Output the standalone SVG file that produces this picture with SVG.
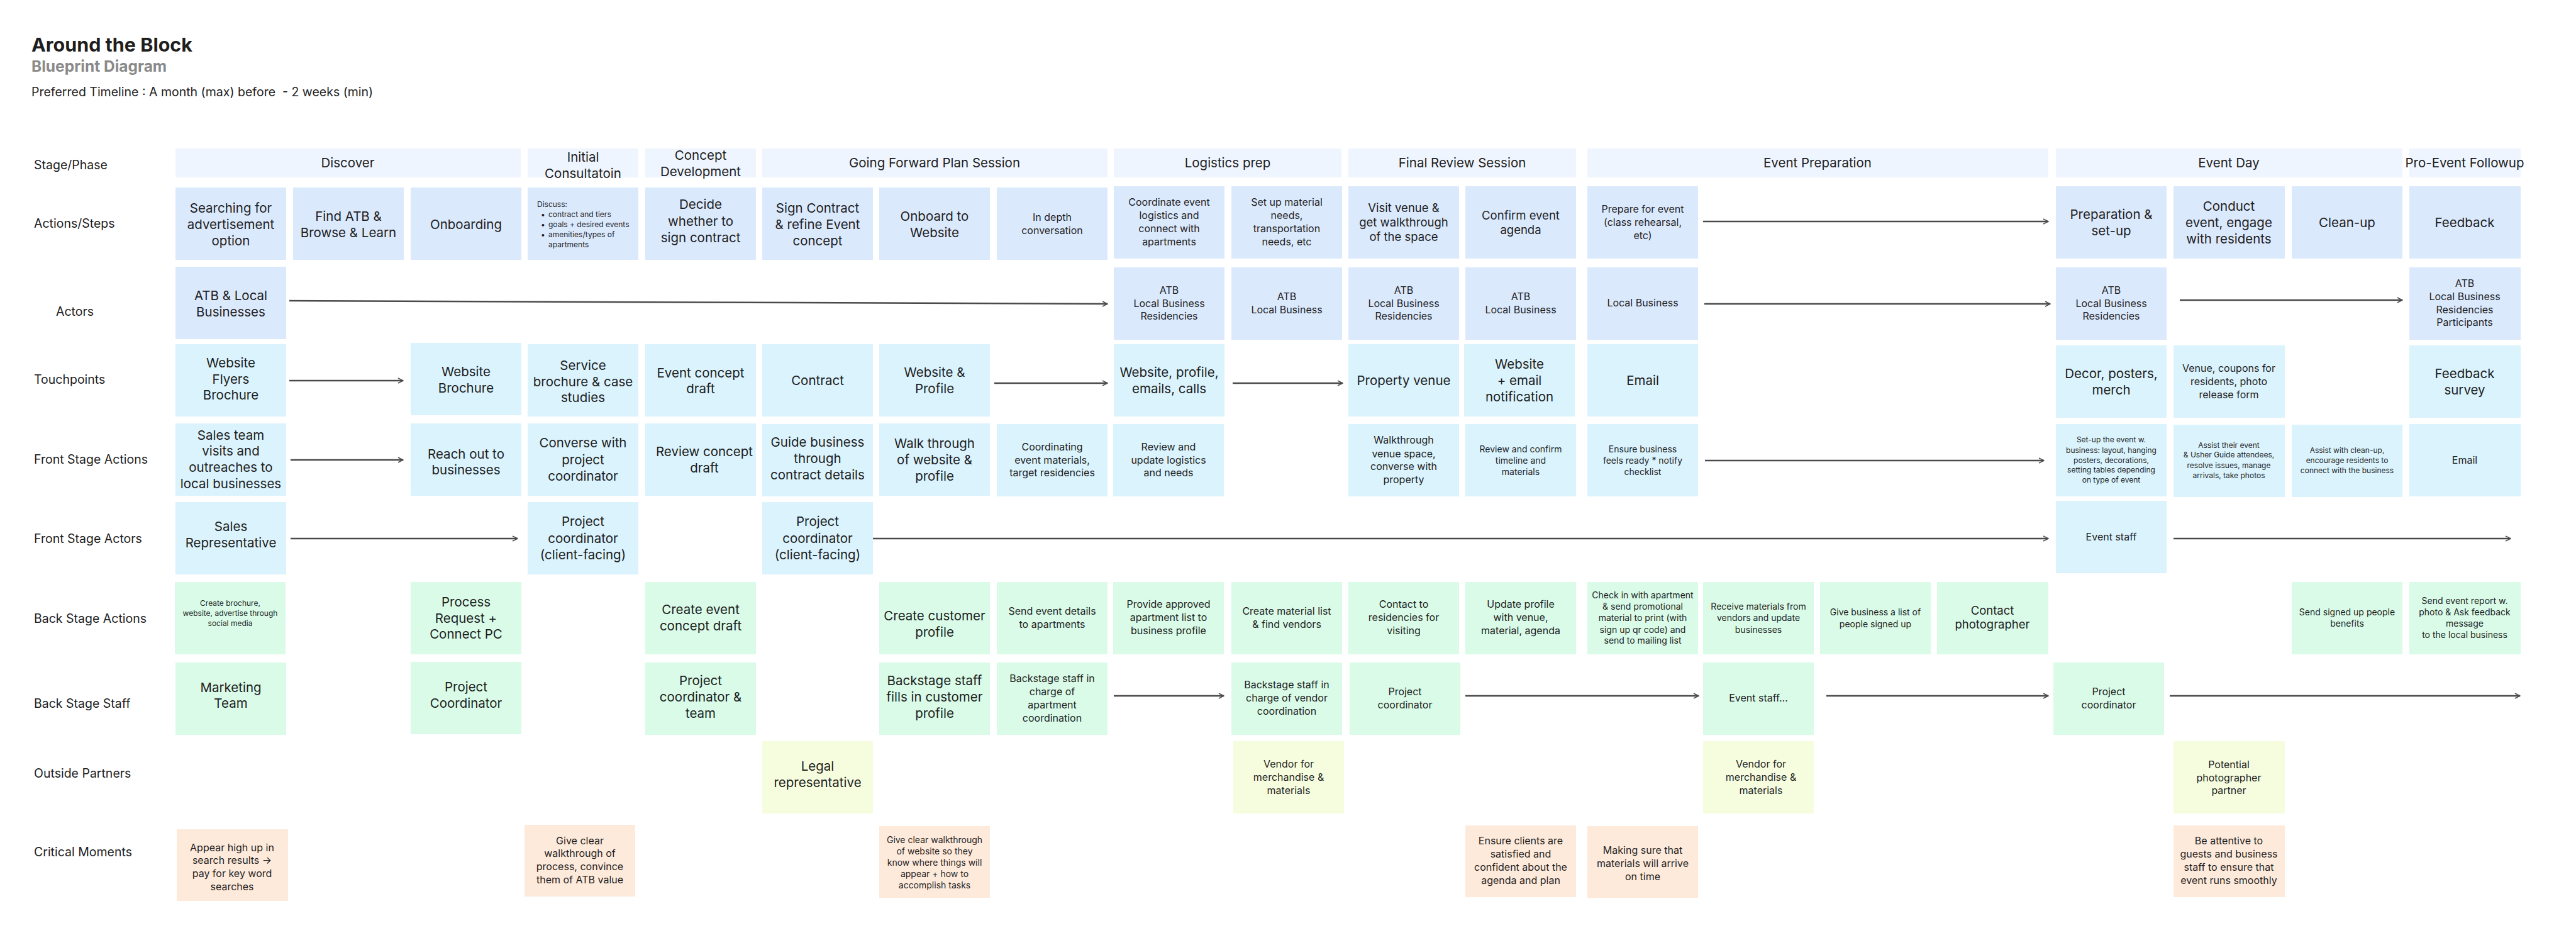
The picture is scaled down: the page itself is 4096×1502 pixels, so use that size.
<svg xmlns="http://www.w3.org/2000/svg" width="4096" height="1502" viewBox="0 0 4096 1502">
<style>
text{font-family:Inter,"Liberation Sans",sans-serif;fill:#1e1e1e}
.c{text-anchor:middle}
.L{font-size:20.5px}.ML{font-size:18.5px}.M{font-size:16px}.S{font-size:14px}.XS{font-size:12px}
.lab{font-size:19.5px}
.ph{fill:#EEF5FE}.act{fill:#DBE9FD}.tp{fill:#DAF3FD}.bs{fill:#D9FBE8}.op{fill:#F6FDDF}.cm{fill:#FEEADB}
.ar{stroke:#4a4a4a;stroke-width:2.5;fill:none;marker-end:url(#ah)}
</style>
<defs>
<marker id="ah" viewBox="0 0 10 10" refX="9" refY="5" markerWidth="4" markerHeight="4" orient="auto" markerUnits="strokeWidth">
<path d="M1,1 L9,5 L1,9" fill="none" stroke="#4a4a4a" stroke-width="1.5"/>
</marker>
</defs>
<rect width="4096" height="1502" fill="#ffffff"/>
<g id="title">
<text x="50" y="82" style="font-size:30.5px;font-weight:700">Around the Block</text>
<text x="50" y="114" style="font-size:24.5px;font-weight:700;fill:#8a8a8a">Blueprint Diagram</text>
<text x="50" y="153" style="font-size:19.5px" xml:space="preserve">Preferred Timeline : A month (max) before  - 2 weeks (min)</text>
</g>
<g id="row-labels" class="lab">
<text class="lab" x="54" y="269">Stage/Phase</text>
<text class="lab" x="54" y="362">Actions/Steps</text>
<text class="lab" x="89" y="502">Actors</text>
<text class="lab" x="54" y="610">Touchpoints</text>
<text class="lab" x="54" y="737">Front Stage Actions</text>
<text class="lab" x="54" y="863">Front Stage Actors</text>
<text class="lab" x="54" y="990">Back Stage Actions</text>
<text class="lab" x="54" y="1125">Back Stage Staff</text>
<text class="lab" x="54" y="1236">Outside Partners</text>
<text class="lab" x="54" y="1361">Critical Moments</text>
</g>
<g id="phases">
<g id="ph-discover"><rect class="ph" x="279" y="236" width="549" height="46"/><text class="c L" x="553" y="266">Discover</text></g>
<g id="ph-initial"><rect class="ph" x="839" y="236" width="176" height="46"/><text class="c L" x="927" y="257">Initial</text><text class="c L" x="927" y="283">Consultatoin</text></g>
<g id="ph-concept"><rect class="ph" x="1026" y="236" width="176" height="46"/><text class="c L" x="1114" y="254">Concept</text><text class="c L" x="1114" y="280">Development</text></g>
<g id="ph-going"><rect class="ph" x="1212" y="236" width="549" height="46"/><text class="c L" x="1486" y="266">Going Forward Plan Session</text></g>
<g id="ph-logistics"><rect class="ph" x="1771" y="236" width="362" height="46"/><text class="c L" x="1952" y="266">Logistics prep</text></g>
<g id="ph-final"><rect class="ph" x="2144" y="236" width="362" height="46"/><text class="c L" x="2325" y="266">Final Review Session</text></g>
<g id="ph-eventprep"><rect class="ph" x="2524" y="236" width="733" height="46"/><text class="c L" x="2890" y="266">Event Preparation</text></g>
<g id="ph-eventday"><rect class="ph" x="3269" y="236" width="551" height="46"/><text class="c L" x="3544" y="266">Event Day</text></g>
<g id="ph-followup"><rect class="ph" x="3831" y="236" width="177" height="46"/><text class="c L" x="3919" y="266">Pro-Event Followup</text></g>
</g>
<g id="connectors">
<path class="ar" d="M460,478 L1761,483"/>
<path class="ar" d="M2708,352 L3257,352"/>
<path class="ar" d="M2710,483 L3260,483"/>
<path class="ar" d="M3466,477 L3820,477"/>
<path class="ar" d="M460,605 L641,605"/>
<path class="ar" d="M1581,609 L1761,609"/>
<path class="ar" d="M1960,609 L2135,609"/>
<path class="ar" d="M462,731 L641,731"/>
<path class="ar" d="M2711,732 L3250,732"/>
<path class="ar" d="M462,856 L823,856"/>
<path class="ar" d="M1388,856 L3257,856"/>
<path class="ar" d="M3456,856 L3992,856"/>
<path class="ar" d="M1771,1106 L1946,1106"/>
<path class="ar" d="M2330,1106 L2701,1106"/>
<path class="ar" d="M2904,1106 L3257,1106"/>
<path class="ar" d="M3450,1106 L4007,1106"/>
</g>
<g id="actions">
<g id="a1"><rect class="act" x="279" y="298" width="176" height="115"/><text class="c L"><tspan x="367" y="338">Searching for</tspan><tspan x="367" y="364">advertisement</tspan><tspan x="367" y="390">option</tspan></text></g>
<g id="a2"><rect class="act" x="466" y="298" width="176" height="115"/><text class="c L"><tspan x="554" y="351">Find ATB &amp;</tspan><tspan x="554" y="377">Browse &amp; Learn</tspan></text></g>
<g id="a3"><rect class="act" x="653" y="298" width="176" height="115"/><text class="c L" x="741" y="364">Onboarding</text></g>
<g id="a4"><rect class="act" x="839" y="298" width="176" height="115"/><text class="XS"><tspan x="854" y="329">Discuss:</tspan><tspan x="860" y="345">•</tspan><tspan x="872" y="345">contract and tiers</tspan><tspan x="860" y="361">•</tspan><tspan x="872" y="361">goals + desired events</tspan><tspan x="860" y="377">•</tspan><tspan x="872" y="377">amenities/types of</tspan><tspan x="872" y="393">apartments</tspan></text></g>
<g id="a5"><rect class="act" x="1026" y="298" width="176" height="115"/><text class="c L"><tspan x="1114" y="332">Decide</tspan><tspan x="1114" y="359">whether to</tspan><tspan x="1114" y="385">sign contract</tspan></text></g>
<g id="a6"><rect class="act" x="1212" y="298" width="176" height="115"/><text class="c L"><tspan x="1300" y="338">Sign Contract</tspan><tspan x="1300" y="364">&amp; refine Event</tspan><tspan x="1300" y="390">concept</tspan></text></g>
<g id="a7"><rect class="act" x="1398" y="298" width="176" height="115"/><text class="c L"><tspan x="1486" y="351">Onboard to</tspan><tspan x="1486" y="377">Website</tspan></text></g>
<g id="a8"><rect class="act" x="1585" y="298" width="176" height="115"/><text class="c M"><tspan x="1673" y="351">In depth</tspan><tspan x="1673" y="372">conversation</tspan></text></g>
<g id="a9"><rect class="act" x="1771" y="296" width="176" height="115"/><text class="c M"><tspan x="1859" y="327">Coordinate event</tspan><tspan x="1859" y="348">logistics and</tspan><tspan x="1859" y="369">connect with</tspan><tspan x="1859" y="390">apartments</tspan></text></g>
<g id="a10"><rect class="act" x="1958" y="296" width="176" height="115"/><text class="c M"><tspan x="2046" y="327">Set up material</tspan><tspan x="2046" y="348">needs,</tspan><tspan x="2046" y="369">transportation</tspan><tspan x="2046" y="390">needs, etc</tspan></text></g>
<g id="a11"><rect class="act" x="2144" y="296" width="176" height="115"/><text class="c ML"><tspan x="2232" y="337">Visit venue &amp;</tspan><tspan x="2232" y="360">get walkthrough</tspan><tspan x="2232" y="383">of the space</tspan></text></g>
<g id="a12"><rect class="act" x="2330" y="296" width="176" height="115"/><text class="c ML"><tspan x="2418" y="349">Confirm event</tspan><tspan x="2418" y="372">agenda</tspan></text></g>
<g id="a13"><rect class="act" x="2524" y="296" width="176" height="115"/><text class="c M"><tspan x="2612" y="338">Prepare for event</tspan><tspan x="2612" y="359">(class rehearsal,</tspan><tspan x="2612" y="380">etc)</tspan></text></g>
<g id="a17"><rect class="act" x="3269" y="296" width="176" height="115"/><text class="c L"><tspan x="3357" y="348">Preparation &amp;</tspan><tspan x="3357" y="374">set-up</tspan></text></g>
<g id="a18"><rect class="act" x="3456" y="296" width="177" height="115"/><text class="c L"><tspan x="3544" y="335">Conduct</tspan><tspan x="3544" y="361">event, engage</tspan><tspan x="3544" y="387">with residents</tspan></text></g>
<g id="a19"><rect class="act" x="3644" y="296" width="176" height="115"/><text class="c L" x="3732" y="361">Clean-up</text></g>
<g id="a20"><rect class="act" x="3831" y="296" width="177" height="115"/><text class="c L" x="3919" y="361">Feedback</text></g>
</g>
<g id="actors">
<g id="ac1"><rect class="act" x="279" y="424" width="176" height="115"/><text class="c L"><tspan x="367" y="477">ATB &amp; Local</tspan><tspan x="367" y="503">Businesses</tspan></text></g>
<g id="ac9"><rect class="act" x="1771" y="425" width="176" height="115"/><text class="c M"><tspan x="1859" y="467">ATB</tspan><tspan x="1859" y="488">Local Business</tspan><tspan x="1859" y="508">Residencies</tspan></text></g>
<g id="ac10"><rect class="act" x="1958" y="425" width="176" height="115"/><text class="c M"><tspan x="2046" y="477">ATB</tspan><tspan x="2046" y="498">Local Business</tspan></text></g>
<g id="ac11"><rect class="act" x="2144" y="425" width="176" height="115"/><text class="c M"><tspan x="2232" y="467">ATB</tspan><tspan x="2232" y="488">Local Business</tspan><tspan x="2232" y="508">Residencies</tspan></text></g>
<g id="ac12"><rect class="act" x="2330" y="425" width="176" height="115"/><text class="c M"><tspan x="2418" y="477">ATB</tspan><tspan x="2418" y="498">Local Business</tspan></text></g>
<g id="ac13"><rect class="act" x="2524" y="425" width="176" height="115"/><text class="c M" x="2612" y="487">Local Business</text></g>
<g id="ac17"><rect class="act" x="3269" y="425" width="176" height="115"/><text class="c M"><tspan x="3357" y="467">ATB</tspan><tspan x="3357" y="488">Local Business</tspan><tspan x="3357" y="508">Residencies</tspan></text></g>
<g id="ac20"><rect class="act" x="3831" y="425" width="177" height="115"/><text class="c M"><tspan x="3919" y="456">ATB</tspan><tspan x="3919" y="477">Local Business</tspan><tspan x="3919" y="498">Residencies</tspan><tspan x="3919" y="518">Participants</tspan></text></g>
</g>
<g id="touchpoints">
<g id="t1"><rect class="tp" x="279" y="547" width="176" height="115"/><text class="c L"><tspan x="367" y="584">Website</tspan><tspan x="367" y="610">Flyers</tspan><tspan x="367" y="635">Brochure</tspan></text></g>
<g id="t3"><rect class="tp" x="653" y="545" width="176" height="115"/><text class="c L"><tspan x="741" y="598">Website</tspan><tspan x="741" y="624">Brochure</tspan></text></g>
<g id="t4"><rect class="tp" x="839" y="547" width="176" height="115"/><text class="c L"><tspan x="927" y="588">Service</tspan><tspan x="927" y="614">brochure &amp; case</tspan><tspan x="927" y="639">studies</tspan></text></g>
<g id="t5"><rect class="tp" x="1026" y="547" width="176" height="115"/><text class="c L"><tspan x="1114" y="600">Event concept</tspan><tspan x="1114" y="625">draft</tspan></text></g>
<g id="t6"><rect class="tp" x="1212" y="547" width="176" height="115"/><text class="c L" x="1300" y="612">Contract</text></g>
<g id="t7"><rect class="tp" x="1398" y="547" width="176" height="115"/><text class="c L"><tspan x="1486" y="599">Website &amp;</tspan><tspan x="1486" y="625">Profile</tspan></text></g>
<g id="t9"><rect class="tp" x="1771" y="547" width="176" height="115"/><text class="c L"><tspan x="1859" y="599">Website, profile,</tspan><tspan x="1859" y="625">emails, calls</tspan></text></g>
<g id="t11"><rect class="tp" x="2144" y="547" width="176" height="115"/><text class="c L" x="2232" y="612">Property venue</text></g>
<g id="t12"><rect class="tp" x="2328" y="547" width="176" height="115"/><text class="c L"><tspan x="2416" y="586">Website</tspan><tspan x="2416" y="612">+ email</tspan><tspan x="2416" y="638">notification</tspan></text></g>
<g id="t13"><rect class="tp" x="2524" y="547" width="176" height="115"/><text class="c L" x="2612" y="612">Email</text></g>
<g id="t17"><rect class="tp" x="3269" y="549" width="176" height="115"/><text class="c L"><tspan x="3357" y="601">Decor, posters,</tspan><tspan x="3357" y="627">merch</tspan></text></g>
<g id="t18"><rect class="tp" x="3456" y="549" width="177" height="115"/><text class="c M"><tspan x="3544" y="591">Venue, coupons for</tspan><tspan x="3544" y="612">residents, photo</tspan><tspan x="3544" y="633">release form</tspan></text></g>
<g id="t20"><rect class="tp" x="3831" y="549" width="177" height="115"/><text class="c L"><tspan x="3919" y="601">Feedback</tspan><tspan x="3919" y="627">survey</tspan></text></g>
</g>
<g id="frontstage-actions">
<g id="f1"><rect class="tp" x="279" y="673" width="176" height="115"/><text class="c L"><tspan x="367" y="699">Sales team</tspan><tspan x="367" y="724">visits and</tspan><tspan x="367" y="750">outreaches to</tspan><tspan x="367" y="776">local businesses</tspan></text></g>
<g id="f3"><rect class="tp" x="653" y="673" width="176" height="115"/><text class="c L"><tspan x="741" y="729">Reach out to</tspan><tspan x="741" y="754">businesses</tspan></text></g>
<g id="f4"><rect class="tp" x="839" y="673" width="176" height="115"/><text class="c L"><tspan x="927" y="711">Converse with</tspan><tspan x="927" y="738">project</tspan><tspan x="927" y="764">coordinator</tspan></text></g>
<g id="f5"><rect class="tp" x="1026" y="673" width="176" height="115"/><text class="c L"><tspan x="1120" y="725">Review concept</tspan><tspan x="1120" y="751">draft</tspan></text></g>
<g id="f6"><rect class="tp" x="1212" y="674" width="176" height="115"/><text class="c L"><tspan x="1300" y="710">Guide business</tspan><tspan x="1300" y="736">through</tspan><tspan x="1300" y="762">contract details</tspan></text></g>
<g id="f7"><rect class="tp" x="1398" y="673" width="176" height="115"/><text class="c L"><tspan x="1486" y="712">Walk through</tspan><tspan x="1486" y="738">of website &amp;</tspan><tspan x="1486" y="764">profile</tspan></text></g>
<g id="f8"><rect class="tp" x="1585" y="674" width="176" height="115"/><text class="c M"><tspan x="1673" y="716">Coordinating</tspan><tspan x="1673" y="737">event materials,</tspan><tspan x="1673" y="757">target residencies</tspan></text></g>
<g id="f9"><rect class="tp" x="1770" y="674" width="176" height="115"/><text class="c M"><tspan x="1858" y="716">Review and</tspan><tspan x="1858" y="737">update logistics</tspan><tspan x="1858" y="757">and needs</tspan></text></g>
<g id="f11"><rect class="tp" x="2144" y="674" width="176" height="115"/><text class="c M"><tspan x="2232" y="705">Walkthrough</tspan><tspan x="2232" y="727">venue space,</tspan><tspan x="2232" y="747">converse with</tspan><tspan x="2232" y="768">property</tspan></text></g>
<g id="f12"><rect class="tp" x="2330" y="674" width="176" height="115"/><text class="c S"><tspan x="2418" y="719">Review and confirm</tspan><tspan x="2418" y="737">timeline and</tspan><tspan x="2418" y="755">materials</tspan></text></g>
<g id="f13"><rect class="tp" x="2524" y="674" width="176" height="115"/><text class="c S"><tspan x="2612" y="719">Ensure business</tspan><tspan x="2612" y="737">feels ready * notify</tspan><tspan x="2612" y="755">checklist</tspan></text></g>
<g id="f17"><rect class="tp" x="3269" y="674" width="176" height="115"/><text class="c XS"><tspan x="3357" y="703">Set-up the event w.</tspan><tspan x="3357" y="720">business: layout, hanging</tspan><tspan x="3357" y="736">posters, decorations,</tspan><tspan x="3357" y="751">setting tables depending</tspan><tspan x="3357" y="767">on type of event</tspan></text></g>
<g id="f18"><rect class="tp" x="3456" y="675" width="177" height="115"/><text class="c XS"><tspan x="3544" y="712">Assist their event</tspan><tspan x="3544" y="727">&amp; Usher Guide attendees,</tspan><tspan x="3544" y="744">resolve issues, manage</tspan><tspan x="3544" y="760">arrivals, take photos</tspan></text></g>
<g id="f19"><rect class="tp" x="3644" y="675" width="176" height="115"/><text class="c XS"><tspan x="3732" y="720">Assist with clean-up,</tspan><tspan x="3732" y="736">encourage residents to</tspan><tspan x="3732" y="752">connect with the business</tspan></text></g>
<g id="f20"><rect class="tp" x="3831" y="674" width="177" height="115"/><text class="c M" x="3919" y="737">Email</text></g>
</g>
<g id="frontstage-actors">
<g id="fa1"><rect class="tp" x="279" y="798" width="176" height="115"/><text class="c L"><tspan x="367" y="844">Sales</tspan><tspan x="367" y="870">Representative</tspan></text></g>
<g id="fa4"><rect class="tp" x="839" y="798" width="176" height="115"/><text class="c L"><tspan x="927" y="836">Project</tspan><tspan x="927" y="863">coordinator</tspan><tspan x="927" y="889">(client-facing)</tspan></text></g>
<g id="fa6"><rect class="tp" x="1212" y="798" width="176" height="115"/><text class="c L"><tspan x="1300" y="836">Project</tspan><tspan x="1300" y="863">coordinator</tspan><tspan x="1300" y="889">(client-facing)</tspan></text></g>
<g id="fa17"><rect class="tp" x="3269" y="796" width="176" height="115"/><text class="c M" x="3357" y="859">Event staff</text></g>
</g>
<g id="backstage-actions">
<g id="b1"><rect class="bs" x="278" y="925" width="176" height="115"/><text class="c XS"><tspan x="366" y="963">Create brochure,</tspan><tspan x="366" y="979">website, advertise through</tspan><tspan x="366" y="995">social media</tspan></text></g>
<g id="b3"><rect class="bs" x="653" y="925" width="176" height="115"/><text class="c L"><tspan x="741" y="964">Process</tspan><tspan x="741" y="990">Request +</tspan><tspan x="741" y="1015">Connect PC</tspan></text></g>
<g id="b5"><rect class="bs" x="1026" y="925" width="176" height="115"/><text class="c L"><tspan x="1114" y="976">Create event</tspan><tspan x="1114" y="1002">concept draft</tspan></text></g>
<g id="b7"><rect class="bs" x="1398" y="925" width="176" height="115"/><text class="c L"><tspan x="1486" y="986">Create customer</tspan><tspan x="1486" y="1012">profile</tspan></text></g>
<g id="b8"><rect class="bs" x="1585" y="925" width="176" height="115"/><text class="c M"><tspan x="1673" y="977">Send event details</tspan><tspan x="1673" y="998">to apartments</tspan></text></g>
<g id="b9"><rect class="bs" x="1770" y="925" width="176" height="115"/><text class="c M"><tspan x="1858" y="966">Provide approved</tspan><tspan x="1858" y="987">apartment list to</tspan><tspan x="1858" y="1008">business profile</tspan></text></g>
<g id="b10"><rect class="bs" x="1958" y="925" width="176" height="115"/><text class="c M"><tspan x="2046" y="977">Create material list</tspan><tspan x="2046" y="998">&amp; find vendors</tspan></text></g>
<g id="b11"><rect class="bs" x="2144" y="925" width="176" height="115"/><text class="c M"><tspan x="2232" y="966">Contact to</tspan><tspan x="2232" y="987">residencies for</tspan><tspan x="2232" y="1008">visiting</tspan></text></g>
<g id="b12"><rect class="bs" x="2330" y="925" width="176" height="115"/><text class="c M"><tspan x="2418" y="966">Update profile</tspan><tspan x="2418" y="987">with venue,</tspan><tspan x="2418" y="1008">material, agenda</tspan></text></g>
<g id="b13"><rect class="bs" x="2524" y="925" width="176" height="115"/><text class="c S"><tspan x="2612" y="951">Check in with apartment</tspan><tspan x="2612" y="969">&amp; send promotional</tspan><tspan x="2612" y="987">material to print (with</tspan><tspan x="2612" y="1006">sign up qr code) and</tspan><tspan x="2612" y="1023">send to mailing list</tspan></text></g>
<g id="b14"><rect class="bs" x="2708" y="925" width="176" height="115"/><text class="c S"><tspan x="2796" y="969">Receive materials from</tspan><tspan x="2796" y="987">vendors and update</tspan><tspan x="2796" y="1006">businesses</tspan></text></g>
<g id="b15"><rect class="bs" x="2894" y="925" width="176" height="115"/><text class="c S"><tspan x="2982" y="978">Give business a list of</tspan><tspan x="2982" y="997">people signed up</tspan></text></g>
<g id="b16"><rect class="bs" x="3080" y="925" width="177" height="115"/><text class="c ML"><tspan x="3168" y="977">Contact</tspan><tspan x="3168" y="999">photographer</tspan></text></g>
<g id="b19"><rect class="bs" x="3644" y="925" width="176" height="115"/><text class="c S"><tspan x="3732" y="978">Send signed up people</tspan><tspan x="3732" y="996">benefits</tspan></text></g>
<g id="b20"><rect class="bs" x="3831" y="925" width="177" height="115"/><text class="c S"><tspan x="3919" y="960">Send event report w.</tspan><tspan x="3919" y="978">photo &amp; Ask feedback</tspan><tspan x="3919" y="996">message</tspan><tspan x="3919" y="1014">to the local business</tspan></text></g>
</g>
<g id="backstage-staff">
<g id="s1"><rect class="bs" x="279" y="1053" width="176" height="115"/><text class="c L"><tspan x="367" y="1100">Marketing</tspan><tspan x="367" y="1125">Team</tspan></text></g>
<g id="s3"><rect class="bs" x="653" y="1052" width="176" height="115"/><text class="c L"><tspan x="741" y="1099">Project</tspan><tspan x="741" y="1125">Coordinator</tspan></text></g>
<g id="s5"><rect class="bs" x="1026" y="1053" width="176" height="115"/><text class="c L"><tspan x="1114" y="1089">Project</tspan><tspan x="1114" y="1115">coordinator &amp;</tspan><tspan x="1114" y="1141">team</tspan></text></g>
<g id="s7"><rect class="bs" x="1398" y="1053" width="176" height="115"/><text class="c L"><tspan x="1486" y="1089">Backstage staff</tspan><tspan x="1486" y="1115">fills in customer</tspan><tspan x="1486" y="1141">profile</tspan></text></g>
<g id="s8"><rect class="bs" x="1585" y="1053" width="176" height="115"/><text class="c M"><tspan x="1673" y="1084">Backstage staff in</tspan><tspan x="1673" y="1105">charge of</tspan><tspan x="1673" y="1126">apartment</tspan><tspan x="1673" y="1147">coordination</tspan></text></g>
<g id="s10"><rect class="bs" x="1958" y="1053" width="176" height="115"/><text class="c M"><tspan x="2046" y="1094">Backstage staff in</tspan><tspan x="2046" y="1115">charge of vendor</tspan><tspan x="2046" y="1136">coordination</tspan></text></g>
<g id="s11"><rect class="bs" x="2146" y="1053" width="176" height="115"/><text class="c M"><tspan x="2234" y="1105">Project</tspan><tspan x="2234" y="1126">coordinator</tspan></text></g>
<g id="s14"><rect class="bs" x="2708" y="1053" width="176" height="115"/><text class="c M" x="2796" y="1115">Event staff...</text></g>
<g id="s17"><rect class="bs" x="3265" y="1053" width="176" height="115"/><text class="c M"><tspan x="3353" y="1105">Project</tspan><tspan x="3353" y="1126">coordinator</tspan></text></g>
</g>
<g id="outside-partners">
<g id="o6"><rect class="op" x="1212" y="1178" width="176" height="115"/><text class="c L"><tspan x="1300" y="1225">Legal</tspan><tspan x="1300" y="1251">representative</tspan></text></g>
<g id="o10"><rect class="op" x="1961" y="1178" width="176" height="115"/><text class="c M"><tspan x="2049" y="1220">Vendor for</tspan><tspan x="2049" y="1241">merchandise &amp;</tspan><tspan x="2049" y="1262">materials</tspan></text></g>
<g id="o14"><rect class="op" x="2708" y="1178" width="176" height="115"/><text class="c M"><tspan x="2800" y="1220">Vendor for</tspan><tspan x="2800" y="1241">merchandise &amp;</tspan><tspan x="2800" y="1262">materials</tspan></text></g>
<g id="o18"><rect class="op" x="3456" y="1178" width="177" height="115"/><text class="c M"><tspan x="3544" y="1221">Potential</tspan><tspan x="3544" y="1242">photographer</tspan><tspan x="3544" y="1262">partner</tspan></text></g>
</g>
<g id="critical-moments">
<g id="m1"><rect class="cm" x="281" y="1318" width="177" height="114"/><text class="c M"><tspan x="369" y="1353">Appear high up in</tspan><tspan x="369" y="1373">search results →</tspan><tspan x="369" y="1394">pay for key word</tspan><tspan x="369" y="1415">searches</tspan></text></g>
<g id="m4"><rect class="cm" x="834" y="1311" width="176" height="114"/><text class="c M"><tspan x="922" y="1342">Give clear</tspan><tspan x="922" y="1362">walkthrough of</tspan><tspan x="922" y="1383">process, convince</tspan><tspan x="922" y="1404">them of ATB value</tspan></text></g>
<g id="m7"><rect class="cm" x="1398" y="1313" width="176" height="114"/><text class="c S"><tspan x="1486" y="1340">Give clear walkthrough</tspan><tspan x="1486" y="1358">of website so they</tspan><tspan x="1486" y="1376">know where things will</tspan><tspan x="1486" y="1394">appear + how to</tspan><tspan x="1486" y="1412">accomplish tasks</tspan></text></g>
<g id="m12"><rect class="cm" x="2330" y="1312" width="176" height="114"/><text class="c M"><tspan x="2418" y="1342">Ensure clients are</tspan><tspan x="2418" y="1363">satisfied and</tspan><tspan x="2418" y="1384">confident about the</tspan><tspan x="2418" y="1405">agenda and plan</tspan></text></g>
<g id="m13"><rect class="cm" x="2524" y="1313" width="176" height="114"/><text class="c M"><tspan x="2612" y="1357">Making sure that</tspan><tspan x="2612" y="1378">materials will arrive</tspan><tspan x="2612" y="1399">on time</tspan></text></g>
<g id="m18"><rect class="cm" x="3456" y="1312" width="177" height="114"/><text class="c M"><tspan x="3544" y="1342">Be attentive to</tspan><tspan x="3544" y="1363">guests and business</tspan><tspan x="3544" y="1384">staff to ensure that</tspan><tspan x="3544" y="1405">event runs smoothly</tspan></text></g>
</g>
</svg>
